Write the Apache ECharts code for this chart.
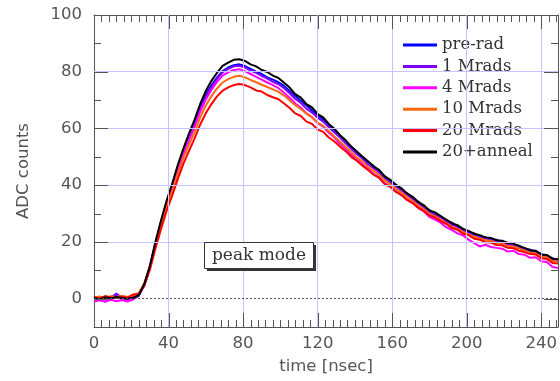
<!DOCTYPE html>
<html><head><meta charset="utf-8">
<script src="https://cdn.jsdelivr.net/npm/echarts@6/dist/echarts.min.js"></script>
<style>html,body{margin:0;padding:0;background:#fff}#c{width:560px;height:381px}</style>
</head><body><div id="c"></div>
<script>
// ---- data ----
const time = [0,3,6,9,12,15,18,21,24,27,30,33,36,39,42,45,48,51,54,57,60,63,66,69,72,75,78,81,84,87,90,93,96,99,102,105,108,111,114,117,120,123,126,129,132,135,138,141,144,147,150,153,156,159,162,165,168,171,174,177,180,183,186,189,192,195,198,201,204,207,210,213,216,219,222,225,228,231,234,237,240,243,246,249];
const preRad = [0.1,0.5,-0.3,0.4,0.9,0.0,0.3,-0.1,1.0,4.8,11.2,19.6,27.2,34.0,40.2,46.5,52.2,57.3,62.0,67.2,71.8,75.2,77.9,80.2,81.5,82.3,82.6,82.0,81.0,80.0,79.2,78.0,77.2,76.3,75.0,73.2,71.4,69.8,68.2,66.4,64.6,63.2,61.3,59.4,57.6,55.2,53.6,51.8,49.6,48.2,46.8,44.7,43.2,41.3,40.2,38.2,37.1,35.2,34.2,32.3,31.2,29.6,29.1,27.3,26.8,25.2,24.6,23.2,23.0,21.6,21.7,20.6,20.8,19.6,19.7,18.6,18.7,17.2,17.3,16.2,15.8,14.6,14.3,13.2];
const mrad1 = [-0.2,0.2,0.6,0.3,1.8,0.4,-0.2,0.5,1.3,4.6,11.0,19.3,26.8,33.7,39.6,45.9,51.7,56.6,61.5,66.8,71.2,74.6,77.5,79.8,81.0,81.9,82.1,81.5,80.4,79.6,78.5,77.6,76.4,75.6,74.2,72.4,70.4,69.0,67.0,65.6,63.8,62.4,60.4,58.6,56.8,54.8,52.8,50.9,49.4,47.4,46.0,44.5,42.5,41.0,39.6,38.0,36.6,35.1,33.6,32.2,30.6,29.7,28.6,27.3,26.1,25.3,24.1,23.3,22.4,21.8,21.2,20.8,20.1,19.8,19.1,18.8,18.2,17.3,16.7,16.3,15.2,14.9,13.7,13.4];
const mrad4 = [-1.0,-0.6,-1.1,-0.4,-0.9,-0.5,-1.0,-0.3,1.1,5.0,11.3,19.4,26.6,33.4,39.2,45.4,51.2,55.9,60.6,65.9,70.2,73.6,76.4,78.6,79.8,80.6,80.9,80.2,79.2,78.2,77.2,76.2,75.3,74.2,72.6,70.8,68.8,67.4,65.3,64.0,61.9,60.6,58.5,56.8,54.6,53.0,50.8,49.1,47.4,45.8,44.0,42.8,40.6,39.5,37.8,36.6,34.8,33.7,32.0,30.8,28.8,27.9,26.8,25.2,24.2,23.0,22.3,20.8,19.6,18.4,19.0,18.2,17.9,17.6,16.6,16.9,15.7,15.5,14.4,14.6,13.2,12.9,11.2,10.8];
const mrad10 = [0.3,0.8,0.2,0.9,0.5,1.0,0.6,1.2,2.0,5.4,11.0,18.7,25.9,32.4,38.1,44.0,49.6,54.3,58.8,63.9,68.1,71.4,74.1,76.2,77.4,78.2,78.6,78.0,77.1,76.3,75.4,74.6,73.8,72.9,71.6,69.9,68.2,66.9,65.2,63.9,62.1,60.9,59.0,57.2,55.4,53.5,51.7,49.7,48.4,46.5,45.1,43.6,41.7,40.3,38.7,37.4,35.8,34.4,32.8,31.5,29.9,29.0,27.9,26.6,25.4,24.6,23.5,22.7,21.8,21.2,20.6,20.3,19.6,19.3,18.6,18.4,17.7,16.9,16.2,16.0,14.8,14.6,13.3,13.1];
const mrad20 = [0.6,0.1,0.9,0.4,0.2,0.7,0.3,1.5,1.6,4.6,10.2,17.8,24.6,31.0,36.4,42.2,47.6,52.1,56.5,61.4,65.4,68.6,71.3,73.3,74.5,75.3,75.7,75.3,74.5,73.4,73.0,71.8,71.0,70.3,68.8,67.2,65.3,64.4,62.4,61.6,59.6,58.8,56.8,55.4,53.6,52.0,50.0,48.6,46.9,45.4,43.7,42.6,40.4,39.4,37.6,36.5,34.8,33.7,32.0,30.9,29.3,28.6,27.3,26.4,24.9,24.3,22.9,22.4,21.1,20.8,19.9,19.8,18.9,18.8,17.9,17.8,16.9,16.4,15.7,15.6,14.2,14.0,12.6,12.4];
const anneal = [0.3,-0.2,0.4,0.1,0.6,0.2,0.0,0.3,1.2,5.2,11.6,20.1,27.6,34.6,40.6,47.2,53.0,58.3,63.1,68.7,73.2,76.8,79.6,82.1,83.2,84.2,84.4,83.8,82.6,81.9,80.6,79.9,78.6,77.8,76.1,74.4,72.1,70.9,68.6,67.4,65.1,63.9,61.6,59.9,57.6,55.9,53.6,51.9,50.1,48.4,46.6,45.4,43.1,41.9,40.1,38.9,37.1,35.9,34.1,32.9,31.1,30.4,29.1,27.9,26.6,25.9,24.6,23.9,22.9,22.4,21.6,21.4,20.6,20.4,19.6,19.4,18.6,17.9,17.1,16.9,15.6,15.4,14.1,13.9];
const seriesNames = ['pre-rad','1 Mrads','4 Mrads','10 Mrads','20 Mrads','20+anneal'];
const xMajor = [0,40,80,120,160,200,240];
const yMajor = [0,20,40,60,80,100];
const xGrid = [40,80,120,160,200,240];
const yGrid = [20,40,60,80];
const xMinorStep = 4;
const yMinorStep = 10;
const baseline = 0;

const X_MIN = 0, X_MAX = 249, Y_MIN = -10, Y_MAX = 100;
const values = [preRad, mrad1, mrad4, mrad10, mrad20, anneal];
const colors = ['#0000ff','#8000ff','#ff00ff','#ff6a10','#ff0000','#000000'];
const frame = '#555555';
const sans = 'DejaVu Sans';
const serif = 'DejaVu Serif';

const xMinor = [], yMinor = [];
for (let v = X_MIN; v <= X_MAX; v += xMinorStep) xMinor.push(v);
for (let v = Y_MIN; v <= Y_MAX; v += yMinorStep) yMinor.push(v);

function axisDef(kind, pos, withLabel) {
  const isX = kind === 'x';
  const a = {
    type: 'value', position: pos,
    min: isX ? X_MIN : Y_MIN, max: isX ? X_MAX : Y_MAX,
    axisLine: { show: true, onZero: false, lineStyle: { color: frame } },
    splitLine: { show: false },
    axisLabel: { show: false },
    axisTick: { show: false }
  };
  if (withLabel) {
    a.axisLabel = { show: true, customValues: isX ? xMajor : yMajor, color: '#555', fontFamily: sans, fontSize: 16.5, margin: isX ? 8 : 12 };
    a.name = isX ? 'time [nsec]' : 'ADC counts';
    a.nameLocation = 'middle';
    a.nameGap = isX ? 31 : 62;
    a.nameTextStyle = { color: '#555', fontFamily: sans, fontSize: 16.5 };
  }
  return a;
}

const gridMarks = [
  ...xGrid.map(v => ({ xAxis: v })),
  ...yGrid.map(v => ({ yAxis: v })),
  { yAxis: baseline, lineStyle: { color: '#555', type: [2, 2], width: 1 } }
];

const series = [{
  type: 'line', data: [], silent: true, z: 1,
  markLine: {
    silent: true, symbol: ['none', 'none'], label: { show: false }, animation: false,
    lineStyle: { color: '#c4c4ff', type: 'solid', width: 1 },
    data: gridMarks
  }
}];
seriesNames.forEach((name, i) => {
  series.push({
    name, type: 'line', z: 2,
    data: time.map((t, k) => [t, values[i][k]]),
    showSymbol: false, symbol: 'none',
    color: colors[i],
    lineStyle: { color: colors[i], width: 2 }
  });
});

const boxGraphics = [
  { id: 'shadow', type: 'rect', shape: { x: 207, y: 245, width: 109, height: 26 }, style: { fill: '#333' }, z: 100 },
  { id: 'box', type: 'rect', shape: { x: 204.5, y: 242.5, width: 109, height: 26 }, style: { fill: '#fff', stroke: '#333', lineWidth: 1 }, z: 101 },
  { id: 'boxtext', type: 'text', x: 259, y: 256, style: { text: 'peak mode', font: '17px "DejaVu Serif"', fill: '#333', align: 'center', verticalAlign: 'middle' }, z: 102 }
];

const chart = echarts.init(document.getElementById('c'));
chart.setOption({
  animation: false,
  grid: { left: 94, top: 15, right: -1, bottom: 54 },
  xAxis: [axisDef('x', 'bottom', true), axisDef('x', 'top', false)],
  yAxis: [axisDef('y', 'left', true), axisDef('y', 'right', false)],
  legend: {
    data: seriesNames, orient: 'vertical', left: 393, top: 33,
    backgroundColor: '#fff', padding: [3.5, 2, 1.5, 10],
    icon: 'rect', itemWidth: 34, itemHeight: 3, itemGap: 4.4, itemTextGap: 6,
    textStyle: { fontFamily: serif, fontSize: 16.5, color: '#333', lineHeight: 17 },
    selectedMode: false
  },
  graphic: boxGraphics,
  series
});

// inward tick marks on all four sides, placed through the axes' own scales
const tickEls = [];
function px(v) { return chart.convertToPixel({ gridIndex: 0 }, v); }
function addX(list, len) {
  list.forEach(v => {
    const b = px([v, Y_MIN]), t = px([v, Y_MAX]);
    const x = Math.round(b[0]) + 0.5;
    tickEls.push({ type: 'line', silent: true, z: 50, shape: { x1: x, y1: b[1], x2: x, y2: b[1] - len }, style: { stroke: frame, lineWidth: 1 } });
    tickEls.push({ type: 'line', silent: true, z: 50, shape: { x1: x, y1: t[1], x2: x, y2: t[1] + len }, style: { stroke: frame, lineWidth: 1 } });
  });
}
function addY(list, len) {
  list.forEach(v => {
    const l = px([X_MIN, v]), r = px([X_MAX, v]);
    const y = Math.round(l[1]) + 0.5;
    tickEls.push({ type: 'line', silent: true, z: 50, shape: { x1: l[0], y1: y, x2: l[0] + len, y2: y }, style: { stroke: frame, lineWidth: 1 } });
    tickEls.push({ type: 'line', silent: true, z: 50, shape: { x1: r[0], y1: y, x2: r[0] - len, y2: y }, style: { stroke: frame, lineWidth: 1 } });
  });
}
addX(xMinor, 7); addX(xMajor, 14); addY(yMinor, 7); addY(yMajor, 14);
chart.setOption({ graphic: boxGraphics.concat(tickEls) });
</script></body></html>
